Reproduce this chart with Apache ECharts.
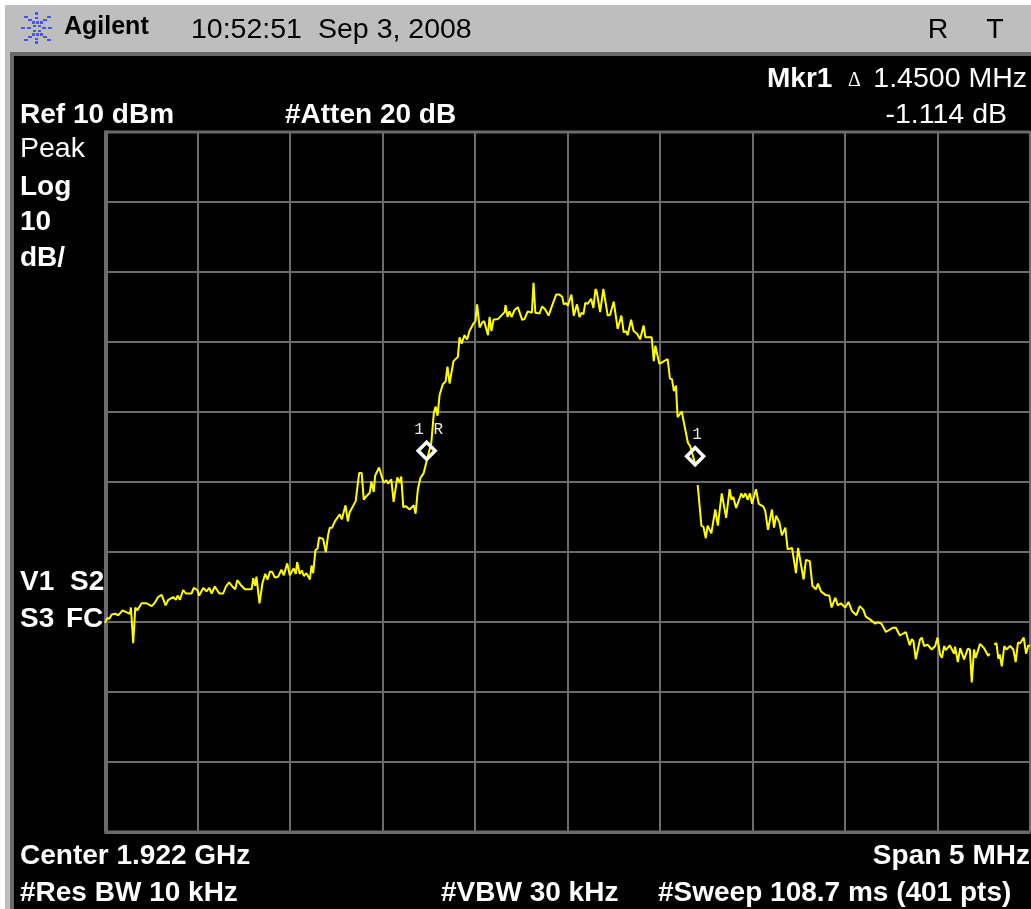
<!DOCTYPE html>
<html><head><meta charset="utf-8">
<style>html,body{margin:0;padding:0;background:#fff}#c{width:1031px;height:909px}</style>
<script src="https://cdn.jsdelivr.net/npm/echarts@6/dist/echarts.min.js"></script>
</head><body><div id="c"></div>
<script>
// Sweep point index (0-400) and level in dBm.
const sweepA = [0,1,1.9,2.9,4.3,5.8,7.6,9.4,10.8,11.2,12.2,13.1,14,14.8,15.8,18,20.2,21.6,23,24.5,25.2,26.2,27.4,29.5,30.7,31.4,32.4,33.8,35,37.4,38.4,39.9,40.7,42.5,43.9,45.1,46.1,47.5,49.4,51.1,52.3,53.7,55.1,56.3,57.2,59,60.5,63.4,64.1,64.9,65.5,66.8,68.1,69.3,70.3,71.3,72.3,73.4,74.9,76.3,77.3,78.8,79.9,81.6,82.5,83.1,84.2,85.1,86,87.1,88.6,89.3,90,91,91.9,92.6,94.3,95.5,96.5,97.2,98.2,99.4,101.5,102.4,104,105,105.8,108.4,109.9,111,111.9,113,114.5,115.2,116.2,116.8,118.5,120.5,121.7,122.4,123.8,124.8,126.4,127.4,128.1,129,130,131.7,133.5,134.3,135.3,136.4,137.8];
const levelA = [-60.2,-59.5,-59.6,-59,-58.9,-59.1,-58.4,-58.7,-58.9,-58,-63.1,-58,-58.4,-58.3,-57.4,-57.4,-57.8,-57.3,-56.5,-56.2,-56,-57.7,-56.9,-56.5,-56.9,-56.3,-56.9,-55.5,-56,-56,-55.2,-55.5,-56.3,-55.2,-55.7,-55.2,-56,-55,-56,-56,-55,-54.4,-55,-55.4,-54.1,-54.9,-55.4,-55.4,-53.8,-54.9,-53.6,-57.4,-54.5,-53.2,-54,-52.9,-52.9,-53.7,-53.6,-52.6,-53.4,-51.7,-53.4,-52.4,-53.2,-51.5,-53.2,-52.7,-53.5,-53.1,-54,-52,-53.1,-49.8,-49.6,-48,-48.2,-50.1,-47.6,-46.6,-46.6,-45.7,-44.7,-45.4,-43.4,-45.7,-44.4,-42.8,-38.8,-38.8,-42.6,-42.1,-41.6,-40,-41.5,-39.2,-38,-40.2,-39.8,-40.3,-39.7,-42.9,-39.4,-40.2,-39.3,-43.7,-43.5,-44,-43.4,-44.6,-41.1,-39.5,-38.8];
const sweepB = [141.1,142.2,143,143.8,144.7,146.1,147.3,148.1,149,150.7,152.6,153.3,154.2,155.5,156.6,157.6,159.4,160.2,160.9,162,163.1,164,165.6,166.3,167.1,168,169.9,172.8,173.2,174.1,174.9,175.8,177.1,178.5,180.4,181.4,182.8,184.6,185.3,186.1,187.9,189,190.3,191.8,192.5,193.3,194.1,195.1,196.5,197.7,198.4,199.4,200.1,201.7,202.7,204.1,205.2,206,206.9,207.7,208.8,210.2,211.2,212.1,212.6,214.1,214.7,215.5,217.4,218.4,220,220.7,221.7,223.3,224.3,225.3,226,227.5,228.6,230.1,231.4,232.9,233.7,236.4,237.3,238,238.7,239.7,243.3,244.3,245.2,246,246.9,247.6,249.4,250.2,250.9,252.1,253,255.4];
const levelB = [-34.5,-30.2,-29.3,-30.6,-27.6,-26.1,-25.7,-23.6,-26,-22.8,-22.2,-19.4,-20.3,-19.1,-19.7,-18.5,-17.4,-17.1,-14.7,-18,-17.3,-17.1,-19.1,-16.5,-18.5,-16.9,-16.8,-15.8,-14.8,-16.5,-15.7,-16.5,-15.5,-15.1,-16.9,-16.8,-15.7,-15.9,-11.6,-15.9,-16,-15,-15.4,-16.3,-16.3,-14.9,-14.7,-13.3,-13.3,-13.6,-14.7,-14.5,-14.9,-13.3,-16.3,-14.7,-16.5,-15.9,-16.1,-14.5,-14.6,-13.9,-15.2,-12.5,-12.8,-15.8,-16,-12.5,-16.3,-16.2,-14.3,-14.5,-18.2,-16.3,-18.7,-18.5,-19.1,-16.9,-18.5,-18.9,-19.7,-17.7,-19.4,-19.4,-22.8,-20.6,-20.5,-23.2,-22.5,-25.3,-25.4,-27.1,-26.3,-30.8,-30,-31.4,-31.4,-34.5,-34.9,-37.7];
const sweepC = [256.3,257.9,258.8,259.8,260.6,262.2,263.9,265,266.7,268.6,270.1,270.9,271.7,272.9,273.7,275.2,276,276.9,277.9,278.9,279.8,281.5,282.7,284.7,285.5,286.7,288.4,289.3,290.2,291.6,292.7,294.2,295.2,297.1,297.9,298.8,299.7,302.1,303.1,304.8,305.9,307.4,308.3,309.6,311.5,313.2,314.2,315.8,316.9,318.2,320.1,321.5,322.1,323,323.8,324.9,326.4,327.9,329,329.8,330.8,333.1,334.1,335.7,337.7,340.6,342,343.7,346.3,348,348.9,349.6,350.6,352.4,353.2,354.2,355.7,357.5,359,360,361.1,361.9,362.9,363.6,365.3,367.2,367.6,368.8,369.8,371.5,373.1,374,374.8,375.8,376.5,378.4,380.1,381.9,382.6];
const levelC = [-40.5,-46.3,-46.5,-48.1,-46.3,-47.4,-44,-46.3,-41.7,-45.2,-41.1,-42.6,-42.2,-43.8,-43.8,-41.7,-42.3,-41.7,-42.6,-41.7,-43.2,-41.1,-43.2,-43.6,-44.2,-46.9,-44,-46.6,-44.9,-45.8,-47.7,-46.6,-49.7,-49.5,-49.7,-53.1,-49.5,-54,-51.2,-51.4,-54.9,-55.4,-54.6,-55.7,-56.2,-56.3,-58,-56.6,-57.7,-57.4,-58,-57.2,-57.2,-58.5,-58.6,-59.1,-57.8,-58.3,-59.3,-59.1,-59.7,-60.3,-60.1,-60.3,-61.5,-60.9,-60.9,-62,-61.5,-63.4,-62.5,-62.8,-65.4,-62.6,-62.3,-63.5,-63.3,-64,-63.5,-62.3,-64.7,-65.2,-63.5,-64.1,-63.4,-64.6,-63.6,-65.8,-63.8,-65.4,-63.9,-64,-68.7,-64,-65.2,-63.2,-63.8,-64.9,-64.6];
const sweepD = [384.5,385.5,386.3,386.9,387.8,388.9,389.8,391.4,392.8,393.8,394.8,395.7,397.3,398.3,399.3,400];
const levelD = [-63.3,-63.1,-65.3,-64.7,-66.4,-63.5,-64,-63.5,-64,-65.8,-63,-63.1,-62.3,-64.6,-63.4,-63.5];
const markerSweep = [139.1,255.2];
const markerLevel = [-35.6,-36.4];
const markerNames = ['1 R','1'];

const sections = [[sweepA,levelA],[sweepB,levelB],[sweepC,levelC],[sweepD,levelD]];
const traceData = [];
sections.forEach(([xs,ys],k)=>{
  xs.forEach((x,i)=>traceData.push([x,ys[i]]));
  // the trace breaks after marker 1 and near the right edge
  if(k===1||k===2) traceData.push([xs[xs.length-1]+0.5,null]);
});

const F='"Liberation Sans",Arial,sans-serif';
const txt=(t,x,y,o={})=>({type:'text',z:10,style:Object.assign({text:t,x,y,fill:'#fff',font:`${o.w||'normal'} ${o.s||(o.w?28:28.5)}px ${o.f||F}`,textAlign:o.a||'left',textVerticalAlign:'middle'},o.c?{fill:o.c}:{})});
const rect=(x,y,w,h,c,z)=>({type:'rect',z:z||0,silent:true,shape:{x,y,width:w,height:h},style:{fill:c}});
const dot=(x,y,w,h)=>rect(x,y,w,h,'#4a55ee',11);
const logo=[
 [35,12,3,3],[35,17,3,2],[24,16,4,2],[47,16,4,2],[28,19,4,2],[43,19,4,2],
 [32,21,3,3],[36,21,3,3],[40,21,3,3],[33,25,3,2],[38,25,3,2],[21,27,4,2],[27,27,4,2],[42,27,4,2],[48,27,4,2],
 [33,30,3,2],[38,30,3,2],[32,33,3,3],[36,33,3,3],[40,33,3,3],[28,36,4,2],[43,36,4,2],[24,39,4,2],[47,39,4,2],[35,38,3,2],[35,41,3,3]
].map(d=>dot(...d));

const chart=echarts.init(document.getElementById('c'),null,{renderer:'canvas'});
chart.setOption({
 animation:false,backgroundColor:'#fff',
 grid:{left:105,top:131.5,width:925,height:700,show:false},
 xAxis:{type:'value',min:0,max:400,interval:40,
  axisLine:{show:false},axisTick:{show:false},axisLabel:{show:false},
  splitLine:{show:true,lineStyle:{color:'#6b6b6b',width:2}}},
 yAxis:{type:'value',min:-90,max:10,interval:10,
  axisLine:{show:false},axisTick:{show:false},axisLabel:{show:false},
  splitLine:{show:true,lineStyle:{color:'#6b6b6b',width:2}}},
 series:[
  {type:'line',data:traceData,showSymbol:false,connectNulls:false,clip:false,z:3,
   lineStyle:{color:'#ffff00',width:2},itemStyle:{color:'#ffff00'}},
  {type:'scatter',z:5,symbol:'diamond',symbolSize:[17,17],
   data:markerSweep.map((x,i)=>({value:[x,markerLevel[i]],name:markerNames[i]})),
   itemStyle:{color:'rgba(0,0,0,0)',borderColor:'#fff',borderWidth:3.5,opacity:1},
   label:{show:true,position:'top',distance:3,offset:[2,0],formatter:p=>p.name,color:'#e6e6e6',
    fontFamily:'"Liberation Mono",monospace',fontSize:16,fontWeight:'normal'}}
 ],
 graphic:{elements:[
  rect(5,5,1026,47,'#bebebe',-10),
  rect(5,52,1026,4,'#6a6a6a',-10),
  rect(5,52,5,857,'#bebebe',-10),
  rect(10,52,4,857,'#6a6a6a',-10),
  rect(14,56,1017,853,'#000',-9),
  // plot frame
  rect(104.5,130.5,3.5,703,'#6b6b6b',1),
  rect(104.5,130.5,926,3,'#6b6b6b',1),
  rect(104.5,830.5,926,3.5,'#6b6b6b',1),
  ...logo,
  txt('Agilent',64,27,{w:'bold',s:25,c:'#000'}),
  txt('10:52:51',191,30,{c:'#000'}),
  txt('Sep 3, 2008',318,30,{c:'#000'}),
  txt('R',938,30,{c:'#000',a:'center'}),
  txt('T',995,30,{c:'#000',a:'center'}),
  txt('Mkr1',767,79,{w:'bold'}),
  txt('\u0394',848,81,{s:20,f:'"Liberation Serif",serif'}),
  txt('1.4500 MHz',1027,79,{a:'right'}),
  txt('-1.114 dB',1007,115,{a:'right'}),
  txt('Ref 10 dBm',20,115,{w:'bold'}),
  txt('#Atten 20 dB',285,115,{w:'bold'}),
  txt('Peak',20,149),
  txt('Log',20,187,{w:'bold'}),
  txt('10',20,222,{w:'bold'}),
  txt('dB/',20,258,{w:'bold'}),
  txt('V1',20,582,{w:'bold'}),
  txt('S2',70,582,{w:'bold'}),
  txt('S3',20,619,{w:'bold'}),
  txt('FC',66,619,{w:'bold'}),
  txt('Center 1.922 GHz',20,856,{w:'bold'}),
  txt('Span 5 MHz',1030,856,{w:'bold',a:'right'}),
  txt('#Res BW 10 kHz',20,893,{w:'bold'}),
  txt('#VBW 30 kHz',441,893,{w:'bold'}),
  txt('#Sweep 108.7 ms (401 pts)',658,893,{w:'bold'})
 ]}
});
</script></body></html>
